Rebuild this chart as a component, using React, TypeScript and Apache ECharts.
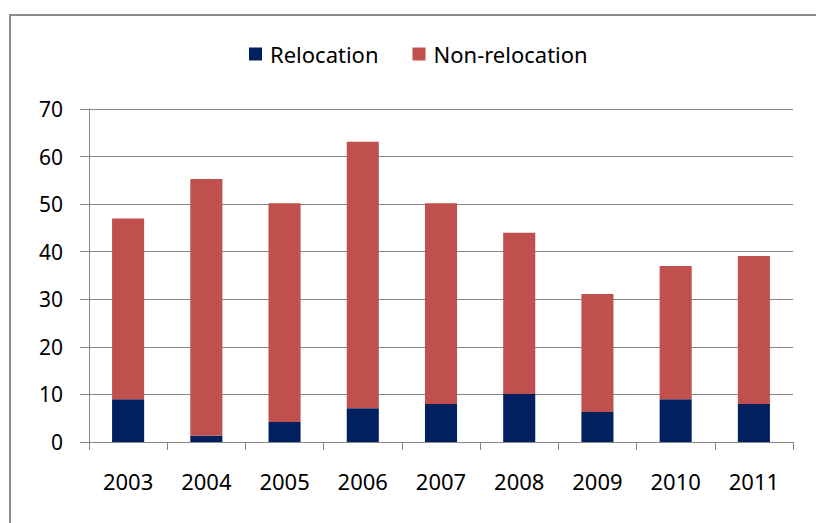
import React, { useEffect, useRef } from "react";
import * as echarts from "echarts";

const years = ["2003", "2004", "2005", "2006", "2007", "2008", "2009", "2010", "2011"];
const relocation = [9, 1.3, 4.2, 7.1, 8, 10.1, 6.3, 9, 8];
const nonRelocation = [38, 54, 46, 56, 42.2, 33.9, 24.8, 28, 31.1];
const yTicks = { min: 0, max: 70, interval: 10 };

export default function App() {
  const ref = useRef<HTMLDivElement>(null);
  useEffect(() => {
    if (!ref.current) return;
    const chart = echarts.init(ref.current, null, { renderer: "svg" });
    const font = "Noto Sans";
    chart.setOption({
      animation: false,
      backgroundColor: "#ffffff",
      textStyle: { fontFamily: font },
      graphic: [
        {
          type: "polyline",
          shape: { points: [[10, 523], [10, 15], [816, 15]] },
          style: { stroke: "#8c8c8c", lineWidth: 2, fill: "none" },
          silent: true,
        },
      ],
      legend: {
        left: 244,
        top: 38,
        itemWidth: 13,
        itemHeight: 13,
        itemGap: 34,
        icon: "rect",
        textStyle: { fontFamily: font, fontSize: 22, color: "#000", padding: [0, 0, 0, 3] },
        data: ["Relocation", "Non-relocation"],
      },
      grid: { left: 89, right: 23, top: 109, bottom: 81, containLabel: false },
      xAxis: {
        type: "category",
        data: years,
        boundaryGap: true,
        axisLine: { show: true, lineStyle: { color: "#868686", width: 1 } },
        axisTick: { show: true, length: 8, alignWithLabel: false, lineStyle: { color: "#868686" } },
        axisLabel: { margin: 28, fontSize: 22, color: "#000", fontFamily: font },
      },
      yAxis: {
        type: "value",
        min: yTicks.min,
        max: yTicks.max,
        interval: yTicks.interval,
        axisLine: { show: true, lineStyle: { color: "#868686", width: 1 } },
        axisTick: { show: true, length: 9, lineStyle: { color: "#868686" } },
        splitLine: { show: true, lineStyle: { color: "#868686", width: 1 } },
        axisLabel: { margin: 26, fontSize: 21, color: "#000", fontFamily: font },
      },
      series: [
        {
          name: "Relocation",
          type: "bar",
          stack: "total",
          barWidth: "41%",
          itemStyle: { color: "#002060" },
          data: relocation,
        },
        {
          name: "Non-relocation",
          type: "bar",
          stack: "total",
          barWidth: "41%",
          itemStyle: { color: "#C0504D" },
          data: nonRelocation,
        },
      ],
    });
    return () => chart.dispose();
  }, []);
  return (
    <div
      ref={ref}
      style={{ position: "fixed", left: 0, top: 0, width: 816, height: 523 }}
    />
  );
}
